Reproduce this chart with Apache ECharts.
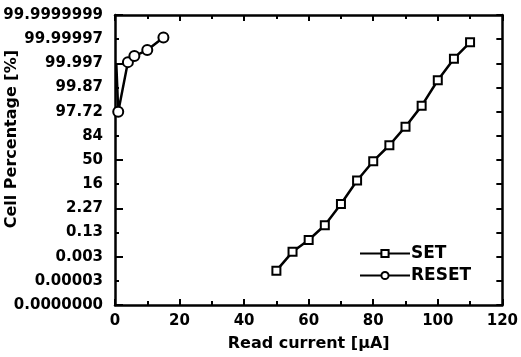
<!DOCTYPE html>
<html>
<head>
<meta charset="utf-8">
<script src="https://cdn.jsdelivr.net/npm/echarts@6/dist/echarts.min.js"></script>
<style>html,body{margin:0;padding:0;background:#fff}#c{width:521px;height:357px}</style>
</head>
<body>
<div id="c"></div>
<script>
// y positions are in sigma units (probit scale), -6 .. 6
var yTickLabels = ['0.0000000','0.00003','0.003','0.13','2.27','16','50','84','97.72','99.87','99.997','99.99997','99.9999999'];
var setX = [50,55,60,65,70,75,80,85,90,95,100,105,110];
var setSigma = [-4.58,-3.80,-3.31,-2.70,-1.82,-0.85,-0.05,0.61,1.38,2.24,3.30,4.19,4.87];
var resetX = [0.4,1,4,6,10,15];
var resetSigma = [4.0,2.0,4.05,4.3,4.55,5.07];

function pairs(xs, ys){ return xs.map(function(x,i){return [x, ys[i]];}); }

var FONT = '"DejaVu Sans", sans-serif';
var chart = echarts.init(document.getElementById('c'), null, {renderer:'canvas'});
var axisLineStyle = {color:'#000', width:2.5};
var resetData = pairs(resetX,resetSigma).map(function(p,i){
  return i === 0 ? {value:p, symbol:'none'} : p;
});
chart.setOption({
  animation:false,
  backgroundColor:'#fff',
  grid:{left:115,right:16,top:15,bottom:49},
  xAxis:[{
    type:'value',min:0,max:120,interval:20,
    axisLine:{onZero:false,lineStyle:axisLineStyle},
    axisTick:{inside:true,length:6,lineStyle:{color:'#000',width:2}},
    minorTick:{show:true,splitNumber:2,length:4,lineStyle:{color:'#000',width:2}},
    splitLine:{show:false},
    axisLabel:{color:'#000',fontFamily:FONT,fontWeight:'bold',fontSize:15,margin:9},
    name:'Read current [μA]',nameLocation:'middle',nameGap:31,
    nameTextStyle:{color:'#000',fontFamily:FONT,fontWeight:'bold',fontSize:16}
  },{
    type:'value',position:'top',min:0,max:120,interval:20,
    axisLine:{onZero:false,lineStyle:axisLineStyle},
    axisTick:{inside:true,length:6,lineStyle:{color:'#000',width:2}},
    minorTick:{show:true,splitNumber:2,length:4,lineStyle:{color:'#000',width:2}},
    splitLine:{show:false},axisLabel:{show:false}
  }],
  yAxis:[{
    type:'value',min:-6,max:6,interval:1,
    axisLine:{onZero:false,lineStyle:axisLineStyle},
    axisTick:{inside:true,length:4,lineStyle:{color:'#000',width:2}},
    splitLine:{show:false},
    axisLabel:{color:'#000',fontFamily:FONT,fontWeight:'bold',fontSize:15,margin:12,
      formatter:function(v){return yTickLabels[Math.round(v)+6];}}
  },{
    type:'value',position:'right',min:-6,max:6,interval:1,
    axisLine:{onZero:false,lineStyle:axisLineStyle},
    axisTick:{inside:true,length:6,lineStyle:{color:'#000',width:2}},
    splitLine:{show:false},axisLabel:{show:false}
  },{
    type:'value',position:'left',min:-6,max:6,interval:2,
    axisLine:{show:false},
    axisTick:{inside:true,length:8,lineStyle:{color:'#000',width:2}},
    splitLine:{show:false},axisLabel:{show:false}
  }],
  legend:{
    orient:'vertical',left:354,top:240,itemGap:5,itemWidth:50,itemHeight:9,
    textStyle:{color:'#000',fontFamily:FONT,fontWeight:'bold',fontSize:17,padding:[0,0,0,-4]},
    data:['SET','RESET']
  },
  graphic:[{
    type:'text',left:4,top:50,
    rotation:Math.PI/2,
    style:{text:'Cell Percentage [%]',fill:'#000',font:'bold 16px "DejaVu Sans", sans-serif'}
  }],
  series:[{
    name:'SET',type:'line',data:pairs(setX,setSigma),
    symbol:'rect',symbolSize:8,
    lineStyle:{color:'#000',width:2.5},
    itemStyle:{color:'#fff',borderColor:'#000',borderWidth:2}
  },{
    name:'RESET',type:'line',data:resetData,
    symbol:'circle',symbolSize:10,
    lineStyle:{color:'#000',width:2.5},
    itemStyle:{color:'#fff',borderColor:'#000',borderWidth:2}
  }]
});
</script>
</body>
</html>
